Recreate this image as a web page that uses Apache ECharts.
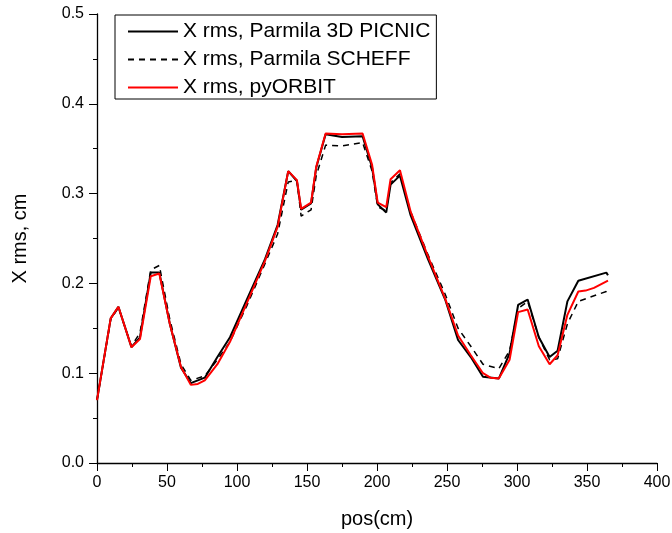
<!DOCTYPE html>
<html>
<head>
<meta charset="utf-8">
<script src="https://cdn.jsdelivr.net/npm/echarts@6/dist/echarts.min.js"></script>
<style>
  html, body { margin: 0; padding: 0; background: #fff; }
  #chart { width: 672px; height: 533px; }
</style>
</head>
<body>
<div id="chart"></div>
<script>
// positions along the linac (cm)
var pos = [0, 9.8, 15.3, 24.6, 30.7, 38.4, 44.5, 52, 60, 67, 77, 86, 95, 107, 120, 129,
           136.6, 142.8, 145.8, 152.9, 156.6, 163.3, 175, 189.7, 196.5, 200.5, 206.6,
           209.7, 216.4, 224, 236.4, 248.7, 257.9, 267, 275.7, 287, 294.7, 300.8, 307.6,
           315.6, 323.3, 329, 336, 343.8, 363.8, 365];

var picnic = [0.070, 0.161, 0.174, 0.129, 0.140, 0.212, 0.212, 0.155, 0.106, 0.089, 0.095,
              0.118, 0.140, 0.182, 0.227, 0.265, 0.325, 0.314, 0.282, 0.289, 0.329, 0.366,
              0.363, 0.364, 0.329, 0.288, 0.279, 0.310, 0.320, 0.276, 0.227, 0.182, 0.137,
              0.118, 0.096, 0.094, 0.122, 0.176, 0.182, 0.140, 0.118, 0.125, 0.180, 0.203,
              0.212, 0.209];

var scheff = [0.070, 0.160, 0.173, 0.130, 0.145, 0.215, 0.220, 0.160, 0.110, 0.092, 0.097,
              0.115, 0.135, 0.175, 0.222, 0.255, 0.313, 0.315, 0.275, 0.282, 0.320, 0.354,
              0.353, 0.357, 0.325, 0.285, 0.281, 0.312, 0.322, 0.280, 0.232, 0.188, 0.150,
              0.130, 0.110, 0.105, 0.125, 0.172, 0.180, 0.140, 0.115, 0.116, 0.155, 0.180,
              0.191, 0.193];

var orbitPos = [0, 9.8, 15.3, 24.6, 30.7, 38.4, 44.5, 52, 60, 67, 72, 77, 86, 95, 107, 120,
                129, 136.6, 142.8, 145.8, 152.9, 156.6, 163.3, 175, 189.7, 196.5, 200.5,
                206.6, 209.7, 216.4, 224, 236.4, 248.7, 257.9, 267, 275.7, 281, 287, 294.7,
                300.8, 307.6, 315.6, 323.3, 329, 336, 343.8, 349, 355, 365];
var pyorbit = [0.070, 0.161, 0.174, 0.129, 0.138, 0.208, 0.211, 0.155, 0.107, 0.087, 0.088,
               0.092, 0.110, 0.135, 0.178, 0.225, 0.263, 0.325, 0.315, 0.283, 0.290, 0.330,
               0.367, 0.366, 0.367, 0.332, 0.290, 0.285, 0.316, 0.326, 0.280, 0.230, 0.183,
               0.142, 0.120, 0.100, 0.095, 0.094, 0.115, 0.168, 0.171, 0.130, 0.110, 0.120,
               0.165, 0.191, 0.192, 0.195, 0.203];

function pairs(xs, ys) {
    return xs.map(function (x, i) { return [x, ys[i]]; });
}

var font = 'Liberation Sans';
var chart = echarts.init(document.getElementById('chart'));
chart.setOption({
    animation: false,
    textStyle: { fontFamily: font },
    grid: { left: 97, right: 15, top: 14, bottom: 70, outerBoundsMode: 'none', containLabel: false },
    legend: {
        orient: 'vertical',
        left: 115, top: 15,
        itemWidth: 50, itemHeight: 20, itemGap: 7,
        padding: [6, 6, 1, 12],
        borderColor: '#000', borderWidth: 1, borderRadius: 0,
        itemStyle: { opacity: 0 },
        textStyle: { fontSize: 21, color: '#000', fontFamily: font },
        data: ['X rms, Parmila 3D PICNIC', 'X rms, Parmila SCHEFF', 'X rms, pyORBIT']
    },
    xAxis: {
        type: 'value', min: 0, max: 400, interval: 50,
        name: 'pos(cm)', nameLocation: 'middle', nameGap: 46,
        nameTextStyle: { fontSize: 20, color: '#000' },
        axisLine: { show: true, onZero: false, lineStyle: { color: '#000', width: 1.3 } },
        axisTick: { show: true, length: 8, lineStyle: { color: '#000' } },
        minorTick: { show: true, splitNumber: 2, length: 4, lineStyle: { color: '#000' } },
        axisLabel: { fontSize: 16, color: '#000', margin: 12 },
        splitLine: { show: false }
    },
    yAxis: {
        type: 'value', min: 0, max: 0.5, interval: 0.1,
        name: 'X rms, cm', nameLocation: 'middle', nameGap: 67,
        nameTextStyle: { fontSize: 20, color: '#000' },
        axisLine: { show: true, onZero: false, lineStyle: { color: '#000', width: 1.3 } },
        axisTick: { show: true, length: 8, lineStyle: { color: '#000' } },
        minorTick: { show: true, splitNumber: 2, length: 4, lineStyle: { color: '#000' } },
        axisLabel: { fontSize: 16, color: '#000', margin: 13,
                     formatter: function (v) { return v.toFixed(1); } },
        splitLine: { show: false }
    },
    series: [
        {
            name: 'X rms, Parmila 3D PICNIC', type: 'line', symbol: 'none',
            data: pairs(pos, picnic),
            lineStyle: { color: '#000', width: 2 }, itemStyle: { color: '#000' }
        },
        {
            name: 'X rms, Parmila SCHEFF', type: 'line', symbol: 'none',
            data: pairs(pos, scheff),
            lineStyle: { color: '#000', width: 1.5, type: [6, 5] }, itemStyle: { color: '#000' }
        },
        {
            name: 'X rms, pyORBIT', type: 'line', symbol: 'none',
            data: pairs(orbitPos, pyorbit),
            lineStyle: { color: '#ff0000', width: 2 }, itemStyle: { color: '#ff0000' }
        }
    ]
});
</script>
</body>
</html>
